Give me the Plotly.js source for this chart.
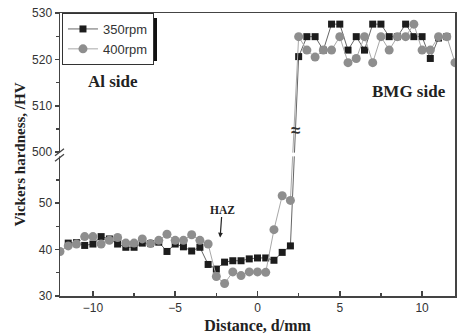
<!DOCTYPE html>
<html>
<head>
<meta charset="utf-8">
<script src="https://cdn.plot.ly/plotly-3.0.1.min.js"></script>
<style>
  html, body { margin: 0; padding: 0; background: #fff; }
  #chart { width: 458px; height: 334px; }
</style>
</head>
<body>
<div id="chart"></div>
<script>
// Hardness profiles across the Al / BMG joint (distance in mm, hardness in HV)
const dist350 = [-11.5, -11, -10.5, -10, -9.5, -9, -8.5, -8, -7.5, -7, -6.5, -6, -5.5, -5, -4.5, -4, -3.5, -3, -2.5, -2,
  -1.5, -1, -0.5, 0, 0.5, 1, 1.5, 2,
  2.5, 3, 3.5, 4, 4.5, 5, 5.5, 6, 6.5, 7, 7.5, 8, 8.5, 9, 9.5, 10, 10.5, 11, 11.5];
const hv350 = [41.4, 41.5, 40.9, 41.2, 42.8, 42.3, 41.2, 40.5, 40.5, 41.4, 41.3, 41.6, 39.6, 41.2, 40.6, 39.7, 40.5, 36.8, 35.8, 37.3,
  37.6, 37.6, 38.0, 38.2, 38.2, 37.7, 39.4, 40.8,
  520.6, 524.9, 524.9, 522.0, 527.6, 527.6, 522.0, 524.9, 522.0, 527.6, 527.6, 524.9, 524.9, 527.6, 524.9, 524.9, 520.2, 524.6, 524.9];

const dist400 = [-12, -11.5, -11, -10.5, -10, -9.5, -9, -8.5, -8, -7.5, -7, -6.5, -6, -5.5, -5, -4.5, -4, -3.5, -3, -2.5,
  -2, -1.5, -1, -0.5, 0, 0.5, 1, 1.5, 2,
  2.5, 3, 3.5, 4, 4.5, 5, 5.5, 6, 6.5, 7, 7.5, 8, 8.5, 9, 9.5, 10, 10.5, 11, 11.5, 12];
const hv400 = [39.6, 40.8, 41.2, 42.8, 42.8, 41.2, 42.0, 42.6, 41.4, 41.4, 42.3, 41.3, 42.0, 43.3, 42.0, 42.0, 43.2, 42.0, 41.2, 34.2,
  32.7, 35.2, 34.4, 35.2, 35.2, 35.1, 44.3, 51.6, 50.6,
  524.9, 522.0, 520.5, 522.0, 522.0, 524.9, 519.3, 520.2, 524.9, 519.3, 524.9, 522.0, 524.9, 524.9, 527.6, 522.0, 522.0, 524.9, 524.9, 519.3];

// Broken y axis: lower segment 30-60 HV, upper segment 500-530 HV
const yTickValues = [30, 40, 50, 500, 510, 520, 530];
const yMinorValues = [35, 45, 55, 505, 515, 525];
const xTickValues = [-10, -5, 0, 5, 10];

const LOWER_TOP = 60, UPPER_BOTTOM = 500, GAP = 1;
const toAxis = v => (v >= UPPER_BOTTOM ? v - UPPER_BOTTOM + LOWER_TOP + GAP : v);

const serif = 'Liberation Serif, Times New Roman, serif';
const sans = 'Liberation Sans, Arial, sans-serif';

const W = 458, H = 334;
const margin = { l: 60, r: 3, t: 13, b: 38 };
const plotW = W - margin.l - margin.r, plotH = H - margin.t - margin.b;
// page pixel -> paper fraction helpers
const px = p => (p - margin.l) / plotW;
const py = p => 1 - (p - margin.t) / plotH;

const traces = [
  {
    x: dist350, y: hv350.map(toAxis), name: '350rpm', type: 'scatter', mode: 'lines+markers',
    line: { color: '#666', width: 1 },
    marker: { symbol: 'square', size: 7, color: '#1c1c1c' }
  },
  {
    x: dist400, y: hv400.map(toAxis), name: '400rpm', type: 'scatter', mode: 'lines+markers',
    line: { color: '#a8a8a8', width: 1 },
    marker: { symbol: 'circle', size: 9, color: '#8e8e8e' }
  }
];

const axisY = {
  range: [30, toAxis(530)],
  tickmode: 'array',
  tickvals: yTickValues.map(toAxis),
  ticktext: yTickValues.map(String),
  ticks: 'outside', ticklen: 4, tickwidth: 1.5, tickcolor: '#444',
  minor: { tickmode: 'array', tickvals: yMinorValues.map(toAxis), ticks: 'outside', ticklen: 3, tickwidth: 1.2, tickcolor: '#444' },
  showline: true, linecolor: '#444', linewidth: 1.5, mirror: true,
  showgrid: false, zeroline: false,
  tickfont: { family: sans, size: 12, color: '#333' },
  title: { text: 'Vickers hardness, /HV', font: { family: serif, size: 15, color: '#222', weight: 'bold' }, standoff: 3 }
};

const axisX = {
  range: [-12, 12],
  tickmode: 'array', tickvals: xTickValues,
  ticks: 'inside', ticklen: 5, tickwidth: 1.5, tickcolor: '#444',
  minor: { tick0: 0, dtick: 2.5, ticks: 'inside', ticklen: 3, tickwidth: 1.2, tickcolor: '#444' },
  showline: true, linecolor: '#444', linewidth: 1.5, mirror: true,
  showgrid: false, zeroline: false,
  tickfont: { family: sans, size: 12, color: '#333' },
  title: { text: 'Distance, d/mm', font: { family: serif, size: 16, color: '#222', weight: 'bold' }, standoff: 7 }
};

const breakY = LOWER_TOP + GAP / 2;

const shapes = [
  // legend drop shadow, peeking out 4 px right of and below the legend box
  { type: 'rect', xref: 'paper', yref: 'paper', x0: px(67), x1: px(157), y0: py(61), y1: py(18),
    fillcolor: '#111', line: { width: 0 }, layer: 'above' },
  // gap in the y axis line at the break
  { type: 'rect', xref: 'paper', yref: 'y', xsizemode: 'pixel', xanchor: 0,
    x0: -2, x1: 2, y0: LOWER_TOP + 0.1, y1: LOWER_TOP + GAP - 0.1, fillcolor: '#fff', line: { width: 0 }, layer: 'above' },
  // slanted break strokes on the y axis
  { type: 'line', xref: 'paper', yref: 'y', xsizemode: 'pixel', ysizemode: 'pixel', xanchor: 0, yanchor: breakY - 0.6,
    x0: -5, x1: 4, y0: -4, y1: 3, line: { color: '#444', width: 1.3 }, layer: 'above' },
  { type: 'line', xref: 'paper', yref: 'y', xsizemode: 'pixel', ysizemode: 'pixel', xanchor: 0, yanchor: breakY + 0.6,
    x0: -5, x1: 4, y0: -4, y1: 3, line: { color: '#444', width: 1.3 }, layer: 'above' },
  // gap in the data lines at the break
  { type: 'rect', xref: 'x', yref: 'y', x0: 2.08, x1: 2.42, y0: LOWER_TOP + 0.1, y1: LOWER_TOP + GAP - 0.1,
    fillcolor: '#fff', line: { width: 0 }, layer: 'above' }
];

const annotations = [
  { x: -8.8, y: toAxis(515.2), xref: 'x', yref: 'y', text: 'Al side', showarrow: false,
    font: { family: serif, size: 17, color: '#222', weight: 'bold' } },
  { x: 9.2, y: toAxis(513.0), xref: 'x', yref: 'y', text: 'BMG side', showarrow: false,
    font: { family: serif, size: 17, color: '#222', weight: 'bold' } },
  { x: -2.27, y: 42.6, xref: 'x', yref: 'y', text: 'HAZ', showarrow: true, arrowhead: 2, arrowsize: 0.8,
    arrowwidth: 1.2, arrowcolor: '#222', ax: 2, ay: -28, standoff: 0,
    font: { family: serif, size: 11.5, color: '#222', weight: 'bold' } },
  { x: 2.3, y: toAxis(504.7), xref: 'x', yref: 'y', text: '≈', showarrow: false,
    font: { family: sans, size: 17, color: '#333', weight: 'bold' } }
];

const layout = {
  width: W, height: H,
  margin: margin,
  paper_bgcolor: '#fff', plot_bgcolor: '#fff',
  showlegend: true,
  legend: {
    x: 0.005, y: 1, xanchor: 'left', yanchor: 'top',
    bgcolor: '#fff', bordercolor: '#333', borderwidth: 1,
    font: { family: sans, size: 13, color: '#333' },
    tracegroupgap: 0, itemwidth: 30
  },
  xaxis: axisX, yaxis: axisY,
  shapes: shapes, annotations: annotations
};

Plotly.newPlot('chart', traces, layout, { staticPlot: true });
</script>
</body>
</html>
